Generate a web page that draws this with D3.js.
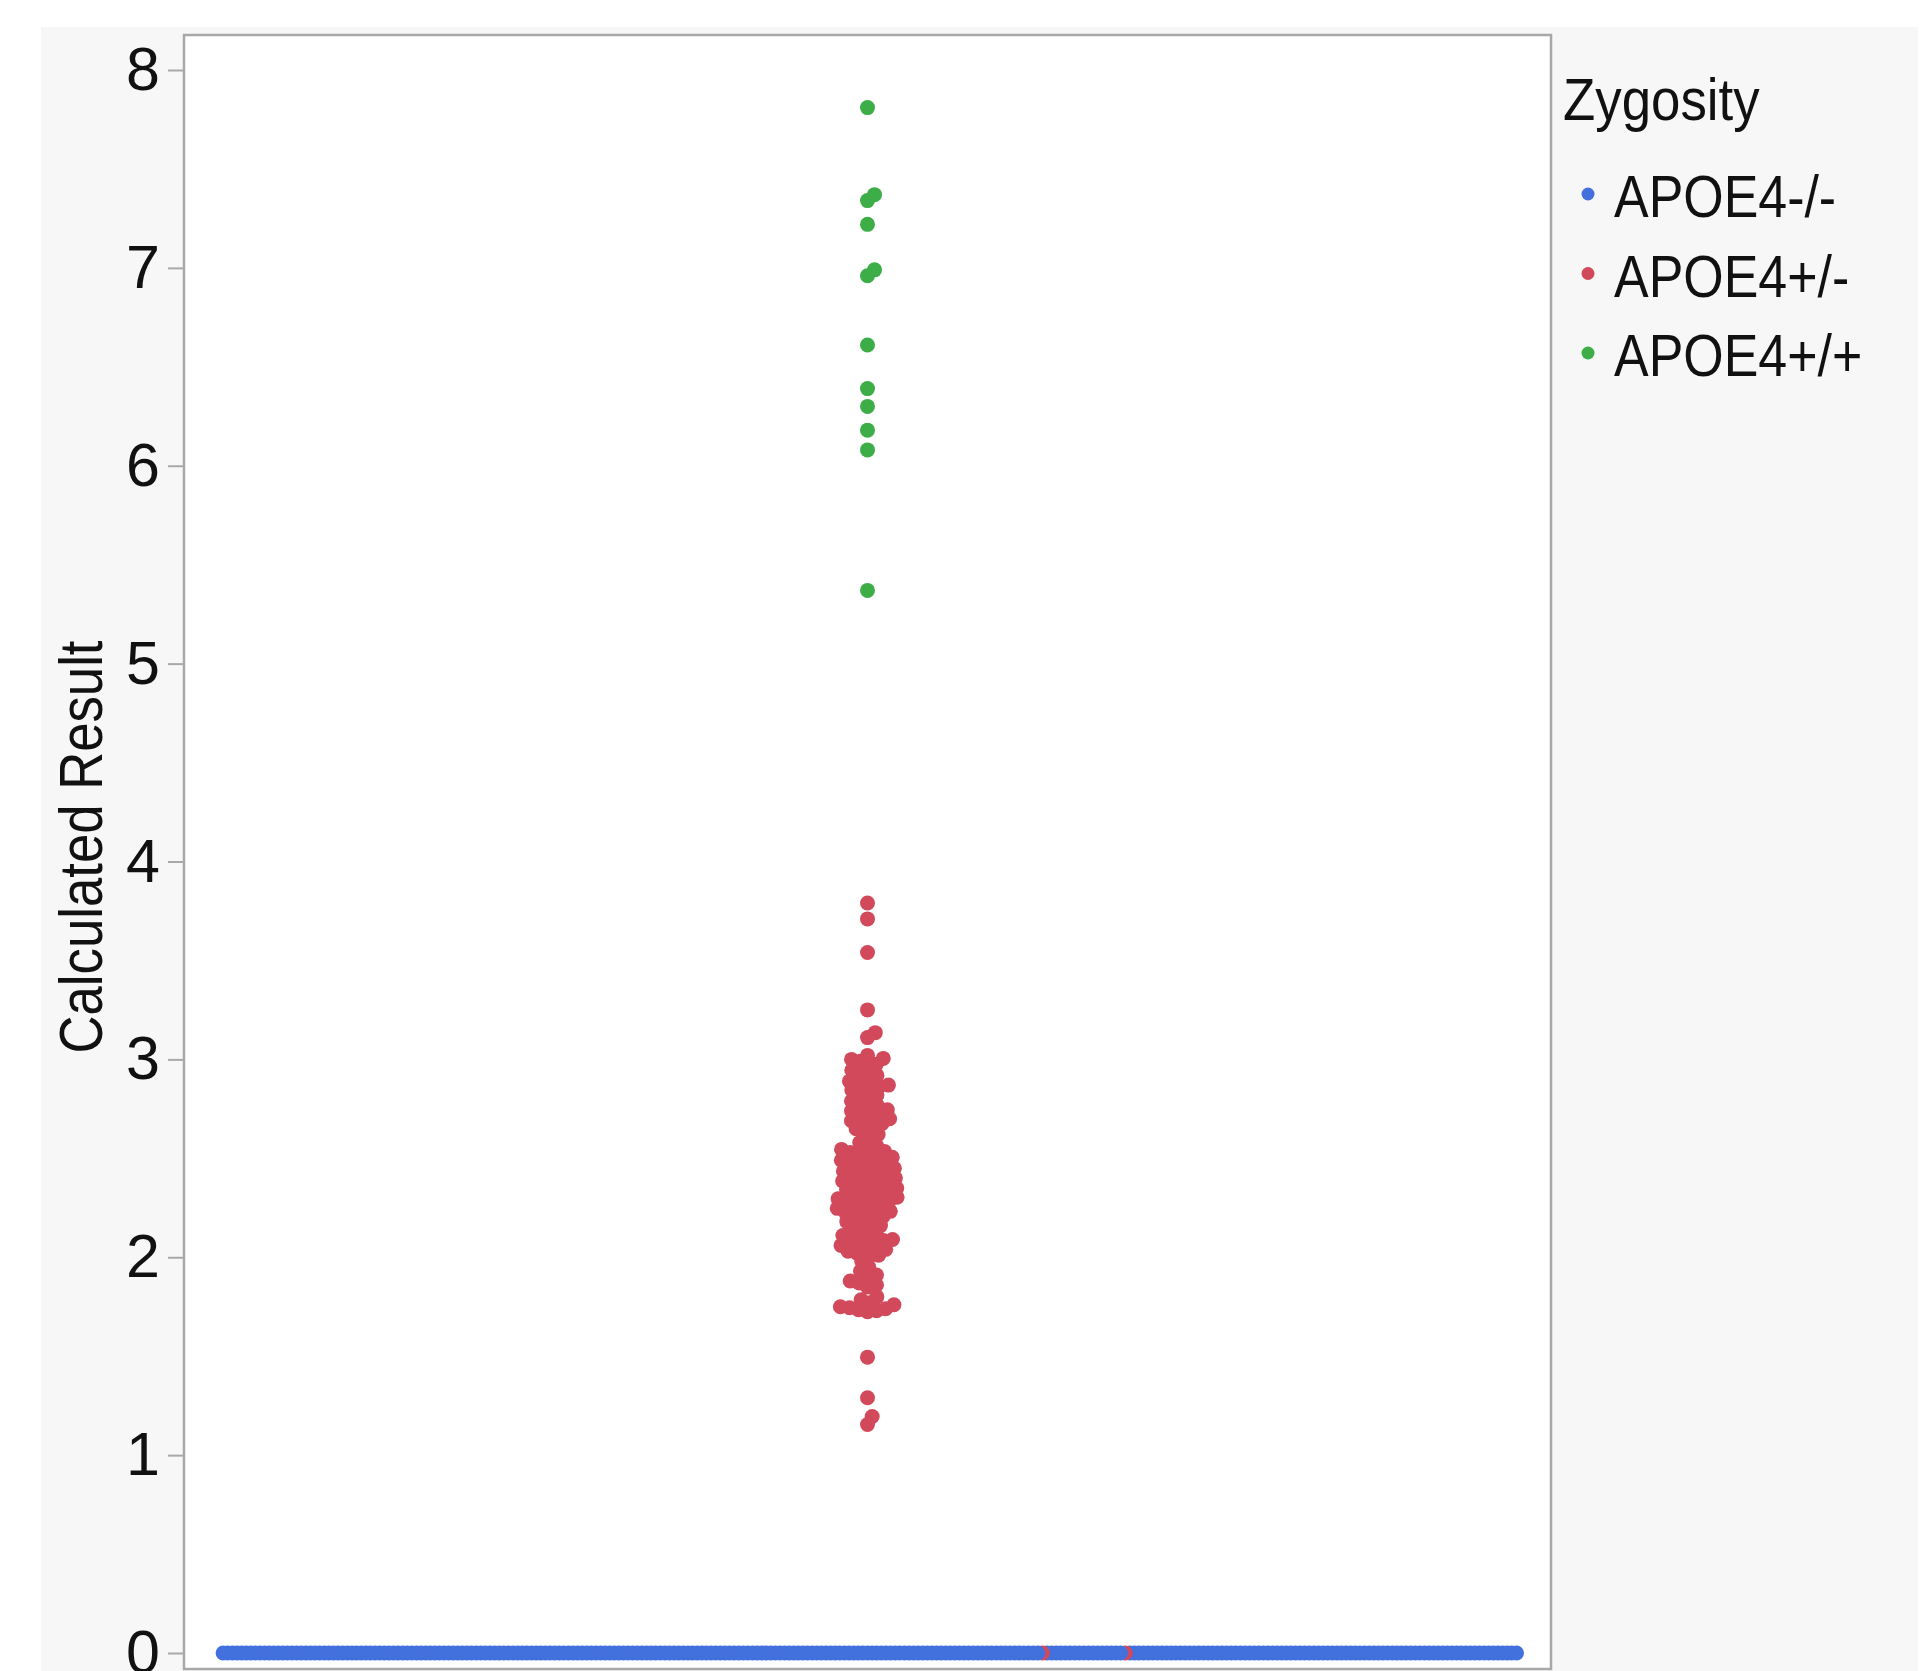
<!DOCTYPE html>
<html>
<head>
<meta charset="utf-8">
<script src="https://cdn.jsdelivr.net/npm/d3@7"></script>
<style>
	body { margin: 0; background: #fff; }
	svg { display: block; font-family: Arial, "Liberation Sans", sans-serif; }
</style>
</head>
<body>
<div id="chart-area"></div>
<script>
// categories and colours
const groups = ["APOE4-/-", "APOE4+/-", "APOE4+/+"]
const groupColors = ["#4270dd", "#d2495b", "#3dad48"]
const yTicks = [0, 1, 2, 3, 4, 5, 6, 7, 8]

// results that read as 0, in row order: [group, count]
const zeroRowRuns = [
	["APOE4-/-", 75], ["APOE4+/-", 1], ["APOE4-/-", 35], ["APOE4+/-", 1], ["APOE4-/-", 170]
]

// APOE4+/- results above 0
const hetValues = [
	3.79, 3.71, 3.54, 3.25, 3.135, 3.11,
	3.02, 3.005, 3.0, 2.99, 2.975, 2.96, 2.945, 2.93, 2.92, 2.905, 2.89, 2.88,
	2.87, 2.865, 2.855, 2.845, 2.83, 2.82, 2.805, 2.79, 2.78, 2.77, 2.755, 2.745, 2.74, 2.73,
	2.72, 2.71, 2.70, 2.69, 2.685, 2.675, 2.665, 2.65, 2.64,
	2.62, 2.60, 2.58, 2.565,
	2.555, 2.545, 2.535, 2.53, 2.52, 2.515, 2.505, 2.50, 2.49, 2.48, 2.475, 2.465,
	2.46, 2.45, 2.445, 2.435, 2.43, 2.42, 2.415, 2.405, 2.40, 2.39, 2.385, 2.38,
	2.372, 2.366, 2.358, 2.35, 2.343, 2.337, 2.33, 2.322, 2.314, 2.31, 2.303, 2.296,
	2.29, 2.282, 2.276, 2.27, 2.262, 2.255, 2.247, 2.24, 2.232, 2.226, 2.22, 2.212, 2.205,
	2.19, 2.18, 2.175, 2.16, 2.15, 2.14, 2.13, 2.12, 2.11, 2.10, 2.09, 2.085, 2.08, 2.07,
	2.06, 2.055, 2.05, 2.04, 2.03, 2.02, 2.01, 2.005,
	1.98, 1.95, 1.93, 1.91, 1.90, 1.88, 1.87, 1.86, 1.85,
	1.80, 1.785, 1.77, 1.76, 1.75, 1.745, 1.74, 1.735, 1.73, 1.725,
	1.495, 1.29, 1.195, 1.155
]

// APOE4+/+ results
const homValues = [7.81, 7.37, 7.34, 7.22, 6.99, 6.96, 6.61, 6.39, 6.30, 6.18, 6.08, 5.37]

const width = 1932
const height = 1671
const plot = { left: 184, top: 35, right: 1551, bottom: 1669 }
const dotR = 7.5
const spacing = 9.2
const maxOffset = 649

const svg = d3.select('#chart-area')
	.append('svg')
	.attr('width', width)
	.attr('height', height)

// grey panel + white plot frame
svg.append('rect')
	.attr('x', 41).attr('y', 27)
	.attr('width', 1918 - 41).attr('height', height - 27)
	.attr('fill', '#f7f7f7')

svg.append('rect')
	.attr('x', plot.left).attr('y', plot.top)
	.attr('width', plot.right - plot.left).attr('height', plot.bottom - plot.top)
	.attr('fill', '#fff')

const yScale = d3.scaleLinear()
	.domain([0, 8])
	.range([1653, 70])

// x is the swarm offset in pixels from the centre
const half = (plot.right - plot.left) / 2
const xScale = d3.scaleLinear()
	.domain([-half, half])
	.range([plot.left, plot.right])

// build the point list
let points = []
zeroRowRuns.forEach(run => {
	for (let i = 0; i < run[1]; i++) points.push({ group: run[0], value: 0 })
})
hetValues.forEach(v => points.push({ group: groups[1], value: v }))
homValues.forEach(v => points.push({ group: groups[2], value: v }))

// simple beeswarm: lowest values first, each point goes to the free spot nearest the centre
function swarm(data) {
	const order = data.slice().sort((a, b) => a.value - b.value)
	const placed = []
	order.forEach((p, idx) => {
		p.py = yScale(p.value)
		const blocked = []
		placed.forEach(q => {
			const dy = Math.abs(q.py - p.py)
			if (dy < spacing) {
				const dx = Math.sqrt(spacing * spacing - dy * dy)
				blocked.push([q.off - dx, q.off + dx])
			}
		})
		const cands = [0]
		blocked.forEach(b => { cands.push(b[0], b[1]) })
		cands.sort((a, b) => (Math.abs(a) - Math.abs(b)) || (b - a))
		const eps = 1e-6
		p.off = cands.find(c => !blocked.some(b => c > b[0] + eps && c < b[1] - eps))
		p.rank = idx
		placed.push(p)
	})
	// rows wider than the frame get squeezed to fit
	d3.group(order, d => d.value).forEach(row => {
		const widest = d3.max(row, d => Math.abs(d.off))
		if (widest > maxOffset) row.forEach(d => { d.off = d.off * maxOffset / widest })
	})
	return order
}

const swarmed = swarm(points).sort((a, b) => b.rank - a.rank)
const color = d3.scaleOrdinal().domain(groups).range(groupColors)

svg.append('g')
	.selectAll('circle')
	.data(swarmed)
	.enter()
	.append('circle')
	.attr('cx', d => xScale(d.off))
	.attr('cy', d => yScale(d.value))
	.attr('r', dotR)
	.attr('fill', d => color(d.group))

// frame on top
svg.append('rect')
	.attr('x', plot.left).attr('y', plot.top)
	.attr('width', plot.right - plot.left).attr('height', plot.bottom - plot.top)
	.attr('fill', 'none')
	.attr('stroke', '#a8a8a8')
	.attr('stroke-width', 2.5)

// y axis
const yAxis = d3.axisLeft(yScale)
	.tickValues(yTicks)
	.tickSize(16)
	.tickPadding(8)

const gy = svg.append('g')
	.attr('transform', 'translate(' + plot.left + ',0)')
	.call(yAxis)
	.attr('font-family', 'Arial, "Liberation Sans", sans-serif')
	.attr('font-size', 61)
gy.select('.domain').remove()
gy.selectAll('.tick line').attr('stroke', '#a8a8a8').attr('stroke-width', 2)
gy.selectAll('.tick text').attr('fill', '#111')

function squish(sel, k) {
	sel.each(function () {
		const len = this.getComputedTextLength()
		d3.select(this).attr('textLength', len * k).attr('lengthAdjust', 'spacingAndGlyphs')
	})
}

// axis title
svg.append('text')
	.attr('transform', 'translate(102,847) rotate(-90)')
	.attr('text-anchor', 'middle')
	.attr('font-size', 62)
	.attr('fill', '#111')
	.text('Calculated Result')
	.call(squish, 0.85)

// legend
svg.append('text')
	.attr('x', 1563).attr('y', 120)
	.attr('font-size', 60)
	.attr('fill', '#111')
	.text('Zygosity')
	.call(squish, 0.88)

const legend = svg.append('g')
	.selectAll('g')
	.data(groups)
	.enter()
	.append('g')
	.attr('transform', (d, i) => 'translate(0,' + (i * 79.5) + ')')

legend.append('circle')
	.attr('cx', 1588).attr('cy', 194)
	.attr('r', 6.5)
	.attr('fill', d => color(d))

legend.append('text')
	.attr('x', 1614).attr('y', 217)
	.attr('font-size', 59)
	.attr('fill', '#111')
	.text(d => d)
	.call(squish, 0.88)
</script>
</body>
</html>
